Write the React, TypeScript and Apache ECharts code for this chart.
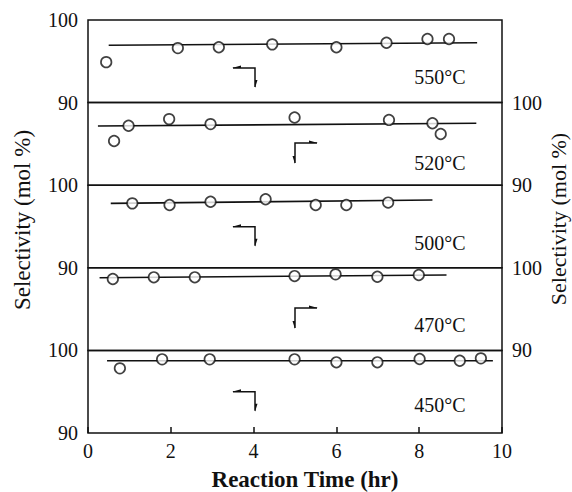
import React, { useEffect, useRef } from "react";
import * as echarts from "echarts";

// ---- data ----
const temperatures = ["550°C", "520°C", "500°C", "470°C", "450°C"];
const axisSides = ["left", "right", "left", "right", "left"];
const timeTicks = [0, 2, 4, 6, 8, 10];
const selectivityRange = [90, 100];

const time550 = [0.44, 2.17, 3.16, 4.45, 6.0, 7.21, 8.2, 8.72];
const sel550 = [94.9, 96.6, 96.7, 97.05, 96.7, 97.25, 97.7, 97.7];
const fitTime550 = [0.5, 9.4];
const fitSel550 = [96.95, 97.25];

const time520 = [0.63, 0.98, 1.96, 2.96, 4.99, 7.27, 8.32, 8.52];
const sel520 = [95.35, 97.2, 98.0, 97.4, 98.2, 97.9, 97.5, 96.2];
const fitTime520 = [0.24, 9.38];
const fitSel520 = [97.17, 97.5];

const time500 = [1.07, 1.97, 2.96, 4.29, 5.5, 6.24, 7.25];
const sel500 = [97.8, 97.6, 98.0, 98.3, 97.6, 97.6, 97.9];
const fitTime500 = [0.55, 8.32];
const fitSel500 = [97.8, 98.2];

const time470 = [0.6, 1.59, 2.58, 4.99, 5.98, 6.99, 7.99];
const sel470 = [98.64, 98.85, 98.85, 99.0, 99.21, 98.92, 99.13];
const fitTime470 = [0.28, 8.66];
const fitSel470 = [98.8, 99.13];

const time450 = [0.77, 1.79, 2.94, 4.99, 6.0, 6.99, 8.01, 8.98, 9.49];
const sel450 = [97.83, 98.92, 98.92, 98.92, 98.56, 98.56, 98.96, 98.75, 99.04];
const fitTime450 = [0.46, 9.78];
const fitSel450 = [98.75, 98.75];

const panelTimes = [time550, time520, time500, time470, time450];
const panelSels = [sel550, sel520, sel500, sel470, sel450];
const panelFitTimes = [fitTime550, fitTime520, fitTime500, fitTime470, fitTime450];
const panelFitSels = [fitSel550, fitSel520, fitSel500, fitSel470, fitSel450];

const FONT = "'Liberation Serif', 'Times New Roman', serif";

export default function App() {
  const ref = useRef<HTMLDivElement>(null);

  useEffect(() => {
    document.body.style.margin = "0";
    if (!ref.current) return;
    const chart = echarts.init(ref.current, undefined, { renderer: "svg" });

    const top0 = 20;
    const panelH = 82.6;
    const left = 88;
    const right = 70;

    const grid: any[] = [];
    const xAxis: any[] = [];
    const yAxis: any[] = [];
    const series: any[] = [];

    temperatures.forEach((_, i) => {
      const isBottom = i === temperatures.length - 1;
      grid.push({
        left,
        right,
        top: top0 + i * panelH,
        height: panelH,
        show: true,
        borderColor: "#111",
        borderWidth: 1.5,
        backgroundColor: "transparent",
      });
      xAxis.push({
        type: "value",
        gridIndex: i,
        min: timeTicks[0],
        max: timeTicks[timeTicks.length - 1],
        interval: 2,
        axisLine: { show: false },
        axisTick: {
          show: isBottom,
          inside: true,
          length: 6,
          lineStyle: { color: "#111", width: 1.5 },
        },
        axisLabel: {
          show: isBottom,
          fontFamily: FONT,
          fontSize: 20,
          color: "#111",
          margin: 8,
        },
        splitLine: { show: false },
      });
      yAxis.push({
        type: "value",
        gridIndex: i,
        position: axisSides[i],
        min: selectivityRange[0],
        max: selectivityRange[1],
        interval: 10,
        axisLine: { show: false },
        axisTick: { show: false },
        axisLabel: {
          fontFamily: FONT,
          fontSize: 20,
          color: "#111",
          margin: 10,
        },
        splitLine: { show: false },
      });
      series.push({
        type: "line",
        xAxisIndex: i,
        yAxisIndex: i,
        data: panelFitTimes[i].map((t, k) => [t, panelFitSels[i][k]]),
        showSymbol: false,
        symbol: "none",
        lineStyle: { color: "#111", width: 1.6 },
        z: 2,
      });
      series.push({
        type: "scatter",
        xAxisIndex: i,
        yAxisIndex: i,
        data: panelTimes[i].map((t, k) => [t, panelSels[i][k]]),
        symbol: "circle",
        symbolSize: 10.5,
        itemStyle: { color: "#fff", borderColor: "#111", borderWidth: 1.7 },
        z: 3,
      });
    });

    const textStyle = (text: string, size: number, weight: any = "normal") => ({
      text,
      fill: "#111",
      font: `${weight} ${size}px ${FONT}`,
      textAlign: "center",
      textVerticalAlign: "middle",
    });

    const labelY = [77, 163, 243, 325, 405];
    const tempLabels = temperatures.map((t, i) => ({
      type: "text",
      x: 440,
      y: labelY[i],
      style: textStyle(t, 20),
    }));

    const lineStyle = { stroke: "#111", lineWidth: 1.5, fill: "none" };
    // "left axis" arrows (panels 1, 3, 5) and "right axis" arrows (panels 2, 4)
    const leftArrowYs = [68, 226.7, 391.7];
    const rightArrowYs = [143, 308];
    const arrows: any[] = [];
    leftArrowYs.forEach((y) => {
      arrows.push({
        type: "polyline",
        shape: { points: [[233, y], [255, y], [255, y + 19]] },
        style: lineStyle,
      });
      arrows.push({
        type: "polygon",
        shape: { points: [[232, y], [241, y - 2.5], [241, y]] },
        style: { fill: "#111" },
      });
      arrows.push({
        type: "polygon",
        shape: { points: [[255, y + 20], [257.5, y + 12], [255, y + 12]] },
        style: { fill: "#111" },
      });
    });
    rightArrowYs.forEach((y) => {
      arrows.push({
        type: "polyline",
        shape: { points: [[295, y + 20], [295, y], [317, y]] },
        style: lineStyle,
      });
      arrows.push({
        type: "polygon",
        shape: { points: [[318, y], [309, y - 2.5], [309, y]] },
        style: { fill: "#111" },
      });
      arrows.push({
        type: "polygon",
        shape: { points: [[295, y + 21], [292.5, y + 13], [295, y + 13]] },
        style: { fill: "#111" },
      });
    });

    const option: any = {
      animation: false,
      backgroundColor: "#fff",
      grid,
      xAxis,
      yAxis,
      series,
      graphic: [
        ...tempLabels,
        ...arrows,
        {
          type: "text",
          x: 22,
          y: 220,
          rotation: Math.PI / 2,
          style: textStyle("Selectivity (mol %)", 23),
        },
        {
          type: "text",
          x: 558,
          y: 219,
          rotation: Math.PI / 2,
          style: textStyle("Selectivity (mol %)", 22),
        },
        {
          type: "text",
          x: 305,
          y: 479,
          style: textStyle("Reaction Time (hr)", 23, "bold"),
        },
      ],
    };

    chart.setOption(option);
    return () => chart.dispose();
  }, []);

  return <div ref={ref} style={{ width: 572, height: 492 }} />;
}
